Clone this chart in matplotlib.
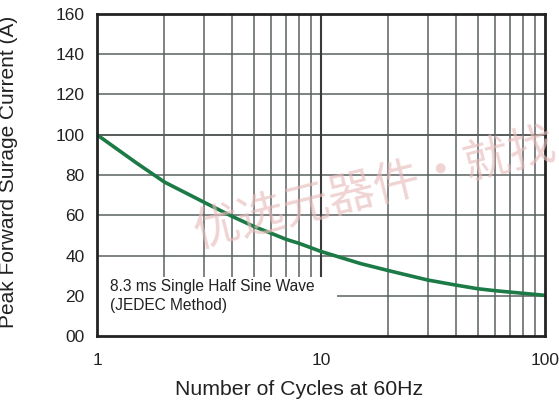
import matplotlib
matplotlib.use("Agg")
import matplotlib.pyplot as plt
from matplotlib.patches import Rectangle
from matplotlib.ticker import FixedLocator, NullFormatter

plt.rcParams['font.family'] = ['Liberation Sans', 'DejaVu Sans']

# Data
cycles = [1, 1.5, 2, 3, 4, 5, 6, 7, 8, 10, 15, 20, 30, 40, 50, 60, 80, 100]
current = [100, 86, 76.5, 66.5, 59.5, 54.5, 51, 48, 46, 42, 36, 32.5, 27.8, 25.3, 23.5, 22.5, 21.2, 20.2]
y_ticks = [0, 20, 40, 60, 80, 100, 120, 140, 160]
y_tick_labels = ["00", "20", "40", "60", "80", "100", "120", "140", "160"]
x_ticks = [1, 10, 100]
x_tick_labels = ["1", "10", "100"]
minor_x = [2, 3, 4, 5, 6, 7, 8, 9, 20, 30, 40, 50, 60, 70, 80, 90]
note_lines = "8.3 ms Single Half Sine Wave\n(JEDEC Method)"
x_label = "Number of Cycles at 60Hz"
y_label = "Peak Forward Surage Current (A)"
watermark = "优选元器件・就找"

fig = plt.figure(figsize=(5.59, 4.09), dpi=100)
ax = fig.add_axes([97/559, 1-336/409, 448/559, 322/409])

ax.set_xscale('log')
ax.set_xlim(1, 100)
ax.set_ylim(0, 160)

grid_c = '#5a6260'
for v in y_ticks[1:-1]:
    ax.axhline(v, color='#4a4f4e' if v == 100 else grid_c, lw=1.3 if v == 100 else 1.1, zorder=1)
for v in minor_x:
    ax.axvline(v, color=grid_c, lw=1.1, zorder=1)
ax.axvline(10, color='#3a3a3a', lw=1.5, zorder=1)

# white box behind the note
ax.add_patch(Rectangle((0, 0), 0.536, 0.183, transform=ax.transAxes,
                       facecolor='white', edgecolor='none', zorder=2))

ax.plot(cycles, current, color='#1b7a45', lw=2.6, zorder=4,
        solid_capstyle='butt', solid_joinstyle='round')

ax.text(110/559, 1-296/409, note_lines, transform=fig.transFigure, fontsize=11.2,
        color='#222222', ha='left', va='center', linespacing=1.3, zorder=5)

ax.set_yticks(y_ticks)
ax.set_yticklabels(y_tick_labels)
ax.xaxis.set_major_locator(FixedLocator(x_ticks))
ax.set_xticklabels(x_tick_labels)
ax.xaxis.set_minor_locator(FixedLocator(minor_x))
ax.xaxis.set_minor_formatter(NullFormatter())
ax.tick_params(axis='both', which='both', length=0, labelsize=12.5, colors='#222222')
ax.tick_params(axis='y', pad=9)
ax.tick_params(axis='x', pad=12)

for s in ax.spines.values():
    s.set_linewidth(2)
    s.set_color('#222222')
    s.set_zorder(6)

ax.set_xlabel(x_label, fontsize=15.3, color='#222222')
ax.set_ylabel(y_label, fontsize=15, color='#222222')
ax.xaxis.set_label_coords((299.5-97)/448, (336-380)/322)
ax.yaxis.set_label_coords((18-97)/448, (336-171.5)/322)

fig.text(197/559, 1-247/409, watermark, family=['Noto Sans CJK SC', 'DejaVu Sans'],
         fontsize=33.5, color='#e8bcbc', alpha=0.65, rotation=14, rotation_mode='anchor',
         ha='left', va='baseline', zorder=10, fontweight='light')

fig.savefig('out.png', dpi=100)
